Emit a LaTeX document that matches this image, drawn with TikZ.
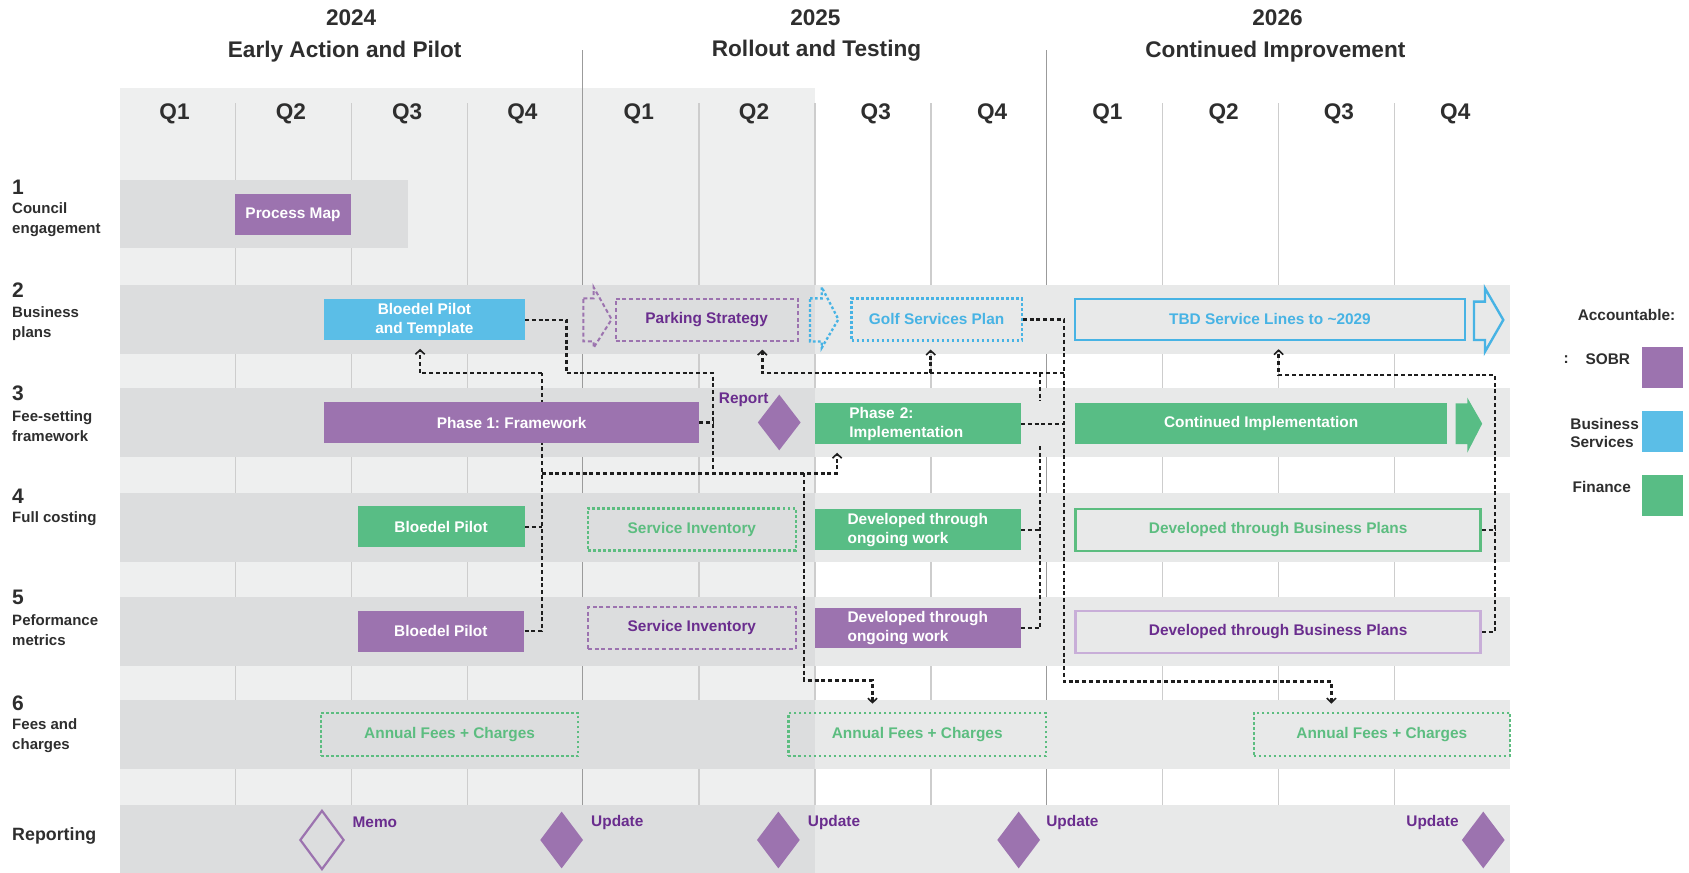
\documentclass[tikz,border=0pt]{standalone}
\usepackage{fontspec}
\setmainfont{Liberation Sans}
\usetikzlibrary{shapes.geometric,arrows.meta,calc}
\pgfdeclarelayer{back}
\pgfdeclarelayer{links}
\pgfsetlayers{back,links,main}
\newcommand\unitpx{0.5385pt}
\newcommand\boxfont{\fontsize{7.7}{9.2}\selectfont\bfseries}
\newcommand\headfont{\fontsize{11.3}{13}\selectfont\bfseries}
\newcommand\numfont{\fontsize{10.5}{12}\selectfont\bfseries}
\newcommand\labfont{\fontsize{7.5}{10}\selectfont\bfseries}
\definecolor{sobr}{HTML}{9C73AF}
\definecolor{sobrdark}{HTML}{6A2D8E}
\definecolor{sobrlight}{HTML}{C8AED8}
\definecolor{bsv}{HTML}{5BBEE7}
\definecolor{bsvline}{HTML}{47B3E4}
\definecolor{fin}{HTML}{58BD85}
\definecolor{finline}{HTML}{5CBD80}
\definecolor{lightbg}{HTML}{EEEFEF}
\definecolor{banddark}{HTML}{DCDDDE}
\definecolor{bandlight}{HTML}{E8E9E9}
\definecolor{qlinec}{HTML}{CDCDCD}
\definecolor{ylinec}{HTML}{9B9B9B}
\definecolor{headc}{HTML}{2E2E2E}
\definecolor{linkc}{HTML}{1E1E1E}
\begin{document}
\frenchspacing
\begin{tikzpicture}[x=\unitpx, y=-\unitpx,
  wd/.style={minimum width=#1*\unitpx}, ht/.style={minimum height=#1*\unitpx}]
\tikzstyle{bar}=[inner sep=0pt, minimum height=38*\unitpx, font=\boxfont, align=center]
\tikzstyle{purpdash}=[draw=sobr, line width=1pt, dash pattern=on 2pt off 1.35pt]
\tikzstyle{bluedot}=[draw=bsvline, line width=1.15pt, dash pattern=on 1.35pt off 1.15pt]
\tikzstyle{greendot}=[draw=finline, line width=1.1pt, dash pattern=on 1.35pt off 1.15pt]
\tikzstyle{headtxt}=[inner sep=0pt, font=\headfont, text=headc]
\tikzstyle{numtxt}=[inner sep=0pt, font=\numfont, text=headc, anchor=west]
\tikzstyle{labtxt}=[inner sep=0pt, font=\labfont, text=headc, anchor=west, align=left]
\tikzstyle{reptxt}=[inner sep=0pt, font=\boxfont, text=sobrdark]
\tikzstyle{legtxt}=[inner sep=0pt, font=\boxfont, text=headc]
\tikzstyle{gem}=[diamond, inner sep=0pt, wd=40, ht=53]
\tikzstyle{link}=[draw=linkc, line width=1.2pt, dash pattern=on 2pt off 1.4pt]
\tikzstyle{tip}=[-{Straight Barb[length=2.2pt,width=4.6pt,line width=0.8pt]}, shorten >=4pt]
\useasboundingbox (0,0) rectangle (1568,810);
\begin{pgfonlayer}{back}
\fill[white] (0,0) rectangle (1568,810);
\fill[lightbg] (111,81.5) rectangle (756.6,810);
\foreach \qx in {218.6,326.2,433.8,649,756.6,864.2,1079.4,1187,1294.6}
  \draw[qlinec, line width=0.6pt] (\qx,96) -- (\qx,810);
\foreach \yx in {541,971.5}
  \draw[ylinec, line width=0.7pt] (\yx,46.5) -- (\yx,810);
\fill[banddark] (111,167) rectangle (378.4,230.6);
\foreach \by in {264.6,360,457.5,554,650,747} {
  \fill[banddark] (111,\by) rectangle (756.6,\by+64);
  \fill[bandlight] (756.6,\by) rectangle (1402,\by+64);
}
\end{pgfonlayer}

\node (y24) [headtxt] at (326,16) {2024};
\node (t24) [headtxt] at (320,47.5) {Early Action and Pilot};
\node (y25) [headtxt] at (757,16) {2025};
\node (t25) [headtxt] at (758,47.5) {Rollout and Testing};
\node (y26) [headtxt] at (1186,16) {2026};
\node (t26) [headtxt] at (1184,47.5) {Continued Improvement};
\foreach \qx/\ql [count=\i] in {162/Q1,270/Q2,378/Q3,485/Q4,593/Q1,700/Q2,813/Q3,921/Q4,1028/Q1,1136/Q2,1243/Q3,1351/Q4}
  \node (q\i) [headtxt] at (\qx,105.5) {\ql};

\foreach \ny/\n in {173.5/1,269.5/2,365.5/3,460.5/4,554.5/5,652.5/6}
  \node (n\n) [numtxt] at (11,\ny) {\n};
\node (lab1) [labtxt] at (11,204) {Council\\engagement};
\node (lab2) [labtxt] at (11,300) {Business\\plans};
\node (lab3) [labtxt] at (11,396) {Fee-setting\\framework};
\node (lab4) [labtxt] at (11,481.5) {Full costing};
\node (lab5) [labtxt] at (11,585) {Peformance\\metrics};
\node (lab6) [labtxt] at (11,682.5) {Fees and\\charges};
\node (lab7) [labtxt, font=\fontsize{8.9}{11}\selectfont\bfseries] at (11,776.5) {Reporting};

\node (pmap) [bar, fill=sobr, text=white, wd=108] at (272,199) {Process Map};
\node (bpt) [bar, fill=bsv, text=white, wd=186] at (394,297) {Bloedel Pilot\\and Template};
\node (park) [bar, purpdash, text=sobrdark, wd=169, ht=39] at (656,296.7) {Parking Strategy};
\node (golf) [bar, bluedot, text=bsvline, wd=158, ht=39] at (869.5,296.5) {Golf Services Plan};
\node (tbd) [bar, draw=bsvline, line width=1.2pt, text=bsvline, wd=362] at (1179,296.6) {TBD Service Lines to \textasciitilde2029};
\draw[purpdash] (541.5,277) -- (551,277) -- (551,266.5) -- (567.8,296.5) -- (551,323) -- (551,317) -- (541.5,317) -- cycle;
\draw[bluedot] (752,277) -- (762.8,277) -- (762.8,266.5) -- (778.3,296.5) -- (762.8,323) -- (762.8,317) -- (752,317) -- cycle;
\draw[bsvline, line width=1.2pt] (1368.4,280) -- (1378.6,280) -- (1378.6,267.7) -- (1395.6,297) -- (1378.6,326.5) -- (1378.6,315.6) -- (1368.4,315.6) -- cycle;

\node (ph1) [bar, fill=sobr, text=white, wd=348] at (475,392.3) {Phase 1: Framework};
\node (rep) [reptxt, anchor=west] at (667,370.7) {Report};
\node (repd) [gem, fill=sobr, ht=52] at (723.4,392.2) {};
\node (ph2) [bar, fill=fin, text=white, wd=191, text width=127*\unitpx, align=left] at (852,393.5) {Phase 2:\\Implementation};
\node (cimpl) [bar, fill=fin, text=white, wd=345.6] at (1170.8,393.3) {Continued Implementation};
\fill[fin] (1351.4,374.4) -- (1362.2,374.4) -- (1362.2,369.2) -- (1376,393.3) -- (1362.2,420.2) -- (1362.2,412.2) -- (1351.4,412.2) -- cycle;

\node (bp4) [bar, fill=fin, text=white, wd=155] at (409.5,489) {Bloedel Pilot};
\node (si4) [bar, greendot, text=finline, wd=192.7, ht=39] at (642.3,491.5) {Service Inventory};
\node (dev4) [bar, fill=fin, text=white, wd=191, align=left] at (852,492) {Developed through\\ongoing work};
\node (dbp4) [bar, draw=finline, line width=1.2pt, text=finline, wd=376, ht=38.7] at (1186.6,491.9) {Developed through Business Plans};

\node (bp5) [bar, fill=sobr, text=white, wd=154.5] at (409.3,586) {Bloedel Pilot};
\node (si5) [bar, purpdash, text=sobrdark, wd=192.7, ht=39.3] at (642.3,582.9) {Service Inventory};
\node (dev5) [bar, fill=sobr, text=white, wd=191, align=left] at (852,583) {Developed through\\ongoing work};
\node (dbp5) [bar, draw=sobrlight, line width=1.2pt, text=sobrdark, wd=376, ht=39] at (1186.6,586.5) {Developed through Business Plans};

\node (af1) [bar, greendot, text=finline, wd=239, ht=40] at (417.4,681.7) {Annual Fees + Charges};
\node (af2) [bar, greendot, text=finline, wd=239, ht=40] at (851.5,681.7) {Annual Fees + Charges};
\node (af3) [bar, greendot, text=finline, wd=238, ht=40] at (1282.8,681.7) {Annual Fees + Charges};

\node (memo) [gem, draw=sobr, line width=1.1pt, wd=41, ht=55] at (298.9,779.8) {};
\node (upd1) [gem, fill=sobr] at (521.4,779.8) {};
\node (upd2) [gem, fill=sobr] at (722.6,779.8) {};
\node (upd3) [gem, fill=sobr] at (945.7,779.8) {};
\node (upd4) [gem, fill=sobr] at (1377,779.8) {};
\node (memot) [reptxt, anchor=west] at (327,763.8) {Memo};
\node (updt1) [reptxt, anchor=west] at (548.5,763.8) {Update};
\node (updt2) [reptxt, anchor=west] at (749.7,763.8) {Update};
\node (updt3) [reptxt, anchor=west] at (971,763.8) {Update};
\node (updt4) [reptxt, anchor=east] at (1354.5,763.8) {Update};

\node (acc) [legtxt] at (1510,292.4) {Accountable:};
\node (colon) [legtxt] at (1454,333.6) {:};
\node (lsobr) [legtxt] at (1492.6,333.6) {SOBR};
\node (lbsv) [legtxt, anchor=west, align=left] at (1457.5,402) {Business\\Services};
\node (lfin) [legtxt] at (1487,451.8) {Finance};
\node (ksobr) [fill=sobr, inner sep=0pt, wd=38.7, ht=38] at (1543.3,341) {};
\node (kbsv) [fill=bsv, inner sep=0pt, wd=38.7, ht=38.5] at (1543.3,400.8) {};
\node (kfin) [fill=fin, inner sep=0pt, wd=38.7, ht=38] at (1543.3,460) {};

\begin{pgfonlayer}{links}
\coordinate (jleft) at (503,346.5);
\coordinate (jmid) at (503,439.5);
\coordinate (jdown) at (746.4,439.5);
\coordinate (jright) at (987.5,346.5);
\coordinate (jstub) at (965.5,346.5);
\draw[link] (bpt.east) -| (526,346.5) -| (662,439.5);
\draw[link] (bp5.east) -| (jleft);
\draw[link, tip] (jleft) -| ($(bpt.south)+(-4,0)$);
\draw[link] (bp4.east) -- ++(16,0);
\draw[link] (ph1.east) -- ++(13,0);
\draw[link, tip] (jmid) -| ($(ph2.south west)+(21,0)$);
\draw[link, tip] (jdown) |- ($(af2.north west)+(79,-29)$) -- ($(af2.north west)+(79,0)$);
\draw[link, tip] (jright) -| ($(park.south)+(51.7,0)$);
\draw[link, tip] (864,346.5) -- ($(golf.south)+(-5.5,0)$);
\draw[link, tip] (golf.east) -| (987.5,632.8) -| ($(af3.north)+(-46.8,0)$);
\draw[link] (ph2.east) -- ++(40,0);
\draw[link] (jstub) -- ++(0,25.5);
\draw[link] (dev5.east) -| (965.5,414);
\draw[link] (dev4.east) -- ++(18,0);
\draw[link, tip] (dbp5.east) -| (1388,348) -| ($(tbd.south)+(8,0)$);
\draw[link] (dbp4.east) -- ++(13.4,0);
\end{pgfonlayer}
\end{tikzpicture}
\end{document}
